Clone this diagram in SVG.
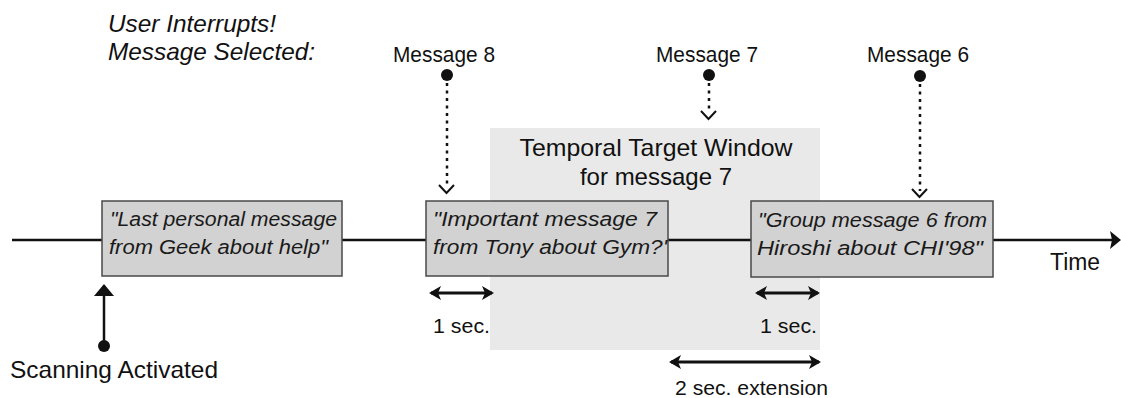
<svg xmlns="http://www.w3.org/2000/svg" width="1121" height="398" viewBox="0 0 1121 398">
  <style>
    .lbl { font-family: "Liberation Sans", Arial, sans-serif; fill: #111; }
    .ital { font-style: italic; }
    .msg { font-family: "Liberation Sans", Arial, sans-serif; font-style: italic; fill: #1a1a1a; font-size: 20px; }
    .box { fill: #d2d2d2; stroke: #4a4a4a; stroke-width: 1.5; }
    .line { stroke: #111; stroke-width: 2.5; fill: none; }
    .dots { stroke: #111; stroke-width: 2.5; stroke-dasharray: 3 4.5; fill: none; }
    .chev { stroke: #111; stroke-width: 2; fill: none; }
    .span { stroke: #111; stroke-width: 2.8; fill: none; marker-start: url(#head); marker-end: url(#head); }
  </style>
  <defs>
    <marker id="head" viewBox="0 0 12 14" refX="10" refY="7" markerWidth="12" markerHeight="14" markerUnits="userSpaceOnUse" orient="auto-start-reverse">
      <path d="M0,0 L12,7 L0,14 L3,7 Z" fill="#111"/>
    </marker>
  </defs>

  <rect width="1121" height="398" fill="#ffffff"/>

  <!-- temporal target window (background band) -->
  <g id="target-window">
    <rect x="490" y="128" width="330" height="222" fill="#e9e9e9"/>
    <text class="lbl" x="656" y="156" font-size="24" text-anchor="middle" textLength="273" lengthAdjust="spacingAndGlyphs">Temporal Target Window</text>
    <text class="lbl" x="656" y="185" font-size="24" text-anchor="middle">for message 7</text>
  </g>

  <!-- connectors: timeline, interrupt pointers, duration spans -->
  <g id="connectors">
    <line class="line" x1="12" y1="240" x2="102" y2="240"/>
    <line class="line" x1="342" y1="240" x2="426" y2="240"/>
    <line class="line" x1="668" y1="240" x2="751" y2="240"/>
    <line class="line" x1="993" y1="240" x2="1112" y2="240"/>
    <path d="M1121,240 L1110,231 L1112,240 L1110,249 Z" fill="#111"/>

    <!-- scanning activated -->
    <line class="line" x1="104" y1="346" x2="104" y2="294"/>
    <path d="M104,284 L94,296 L114,296 Z" fill="#111"/>
    <circle cx="104" cy="346" r="6" fill="#111"/>

    <!-- message 8 pointer -->
    <circle cx="447" cy="75" r="6" fill="#111"/>
    <line class="dots" x1="447" y1="83" x2="447" y2="186"/>
    <polyline class="chev" points="439,185 446.5,193 454,185"/>

    <!-- message 7 pointer -->
    <circle cx="709" cy="75" r="6" fill="#111"/>
    <line class="dots" x1="709" y1="83" x2="709" y2="112"/>
    <polyline class="chev" points="701,111 708.5,119 716,111"/>

    <!-- message 6 pointer -->
    <circle cx="920" cy="76" r="6" fill="#111"/>
    <line class="dots" x1="920" y1="84" x2="920" y2="191"/>
    <polyline class="chev" points="912,189 919.5,197 927,189"/>

    <!-- duration spans -->
    <line class="span" x1="431" y1="293" x2="492" y2="293"/>
    <line class="span" x1="757" y1="293" x2="818" y2="293"/>
    <line class="span" x1="671" y1="362" x2="819" y2="362"/>
  </g>

  <g id="header">
    <text class="lbl ital" x="108" y="32" font-size="24" textLength="168" lengthAdjust="spacingAndGlyphs">User Interrupts!</text>
    <text class="lbl ital" x="108" y="60" font-size="24" textLength="207" lengthAdjust="spacingAndGlyphs">Message Selected:</text>
  </g>

  <g id="label-message-8">
    <text class="lbl" x="393" y="62" font-size="22" textLength="102" lengthAdjust="spacingAndGlyphs">Message 8</text>
  </g>
  <g id="label-message-7">
    <text class="lbl" x="656" y="62" font-size="22" textLength="102" lengthAdjust="spacingAndGlyphs">Message 7</text>
  </g>
  <g id="label-message-6">
    <text class="lbl" x="867" y="62" font-size="22" textLength="102" lengthAdjust="spacingAndGlyphs">Message 6</text>
  </g>

  <g id="msg-geek">
    <rect class="box" x="102" y="201" width="240" height="75"/>
    <text class="msg" x="110" y="226" textLength="227" lengthAdjust="spacingAndGlyphs">"Last personal message</text>
    <text class="msg" x="109" y="254" textLength="219" lengthAdjust="spacingAndGlyphs">from Geek about help"</text>
  </g>

  <g id="msg-tony">
    <rect class="box" x="426" y="201" width="242" height="75"/>
    <text class="msg" x="433" y="226" textLength="224" lengthAdjust="spacingAndGlyphs">"Important message 7</text>
    <text class="msg" x="433" y="254" textLength="234" lengthAdjust="spacingAndGlyphs">from Tony about Gym?'</text>
  </g>

  <g id="msg-hiroshi">
    <rect class="box" x="751" y="201" width="242" height="76"/>
    <text class="msg" x="758" y="227" textLength="229" lengthAdjust="spacingAndGlyphs">"Group message 6 from</text>
    <text class="msg" x="757" y="255" textLength="226" lengthAdjust="spacingAndGlyphs">Hiroshi about CHI'98"</text>
  </g>

  <g id="label-scanning">
    <text class="lbl" x="10" y="378" font-size="24" textLength="208" lengthAdjust="spacingAndGlyphs">Scanning Activated</text>
  </g>
  <g id="label-time">
    <text class="lbl" x="1050" y="270" font-size="23" textLength="50" lengthAdjust="spacingAndGlyphs">Time</text>
  </g>
  <g id="label-spans">
    <text class="lbl" x="433" y="333" font-size="21" textLength="57" lengthAdjust="spacingAndGlyphs">1 sec.</text>
    <text class="lbl" x="760" y="333" font-size="21" textLength="57" lengthAdjust="spacingAndGlyphs">1 sec.</text>
    <text class="lbl" x="675" y="395" font-size="21" textLength="153" lengthAdjust="spacingAndGlyphs">2 sec. extension</text>
  </g>
</svg>
